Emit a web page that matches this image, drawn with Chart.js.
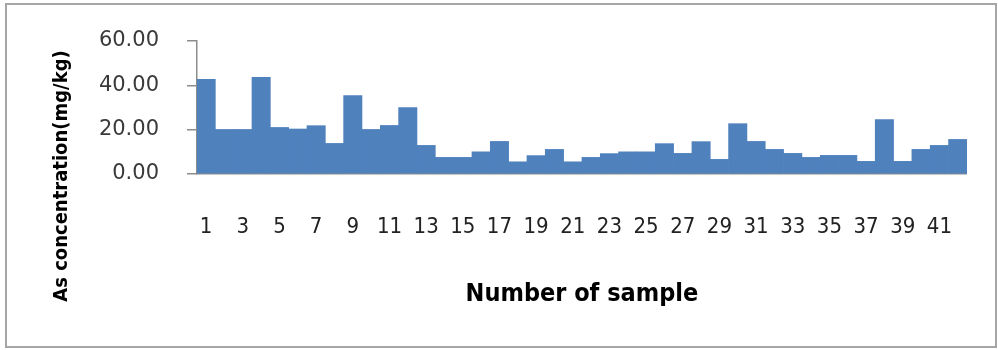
<!DOCTYPE html>
<html lang="en">
<head>
    <meta charset="UTF-8">
    <title>As concentration by sample</title>
    <script src="https://cdn.jsdelivr.net/npm/chart.js"></script>
    <style>
        body { margin: 0; background: #fff; }
        canvas { position: absolute; left: 0; top: 0; }
    </style>
</head>
<body>
    <canvas id="asChart" width="998" height="350"></canvas>
    <script>
        // sample numbers 1..42
        const samples = ['1','2','3','4','5','6','7','8','9','10','11','12','13','14','15','16','17','18','19','20','21',
                         '22','23','24','25','26','27','28','29','30','31','32','33','34','35','36','37','38','39','40','41','42'];
        // As concentration (mg/kg)
        const asValues = [42.7, 20.1, 20.1, 43.6, 21.0, 20.3, 21.8, 13.8, 35.4, 20.1, 21.9, 30.0, 12.9, 7.5,
                          7.5, 10.0, 14.7, 5.5, 8.3, 11.1, 5.5, 7.5, 9.2, 10.0, 10.0, 13.7, 9.3, 14.6,
                          6.6, 22.7, 14.7, 11.1, 9.3, 7.5, 8.4, 8.4, 5.7, 24.6, 5.7, 11.1, 12.9, 15.6];
        const yTicks = [0, 20, 40, 60];

        const yTitle = 'As concentration(mg/kg)';
        const xTitle = 'Number of sample';
        const condensed = "'DejaVu Sans Condensed', 'Liberation Sans Narrow', sans-serif";

        // frame around the whole picture and the rotated y title
        const framePlugin = {
            id: 'frame',
            afterDraw(chart) {
                const ctx = chart.ctx;
                ctx.save();
                ctx.strokeStyle = '#a6a6a6';
                ctx.lineWidth = 2;
                ctx.strokeRect(6, 4, 990, 343);
                ctx.translate(62, 176);
                ctx.rotate(-Math.PI / 2);
                ctx.font = 'bold 20px ' + condensed;
                ctx.fillStyle = '#000';
                ctx.textAlign = 'center';
                ctx.textBaseline = 'middle';
                ctx.fillText(yTitle, 0, 0);
                ctx.restore();
            }
        };

        const chart = new Chart(document.getElementById('asChart'), {
            type: 'bar',
            data: {
                labels: samples,
                datasets: [{
                    data: asValues,
                    backgroundColor: '#4f81bd',
                    borderWidth: 0,
                    barPercentage: 1,
                    categoryPercentage: 1
                }]
            },
            options: {
                responsive: false,
                animation: false,
                layout: { padding: { left: 0, right: 24, top: 41, bottom: 0 } },
                plugins: { legend: { display: false }, tooltip: { enabled: false } },
                scales: {
                    x: {
                        afterFit: (s) => { s.height = 176; },
                        grid: { display: false, drawTicks: false },
                        border: { display: true, color: '#8c8c8c', width: 1.5 },
                        ticks: {
                            autoSkip: false,
                            maxRotation: 0,
                            padding: 40,
                            color: '#222',
                            font: { family: condensed, size: 22 },
                            callback: (v, i) => (i % 2 === 0 ? samples[i] : '')
                        },
                        title: {
                            display: true,
                            text: xTitle,
                            color: '#000',
                            font: { family: condensed, size: 25, weight: 'bold' },
                            padding: { top: 0, bottom: 41 }
                        }
                    },
                    y: {
                        min: 0,
                        max: 60,
                        afterFit: (s) => { s.width = 197; },
                        afterBuildTicks: (s) => { s.ticks = yTicks.map(v => ({ value: v })); },
                        grid: { drawOnChartArea: false, drawTicks: true, tickLength: 10, color: '#8c8c8c', lineWidth: 1.5 },
                        border: { display: true, color: '#8c8c8c', width: 1.5 },
                        ticks: {
                            padding: 28,
                            color: '#3a3a3a',
                            font: { family: "'DejaVu Sans', sans-serif", size: 21 },
                            callback: (v) => v.toFixed(2)
                        }
                    }
                }
            },
            plugins: [framePlugin]
        });
    </script>
</body>
</html>
